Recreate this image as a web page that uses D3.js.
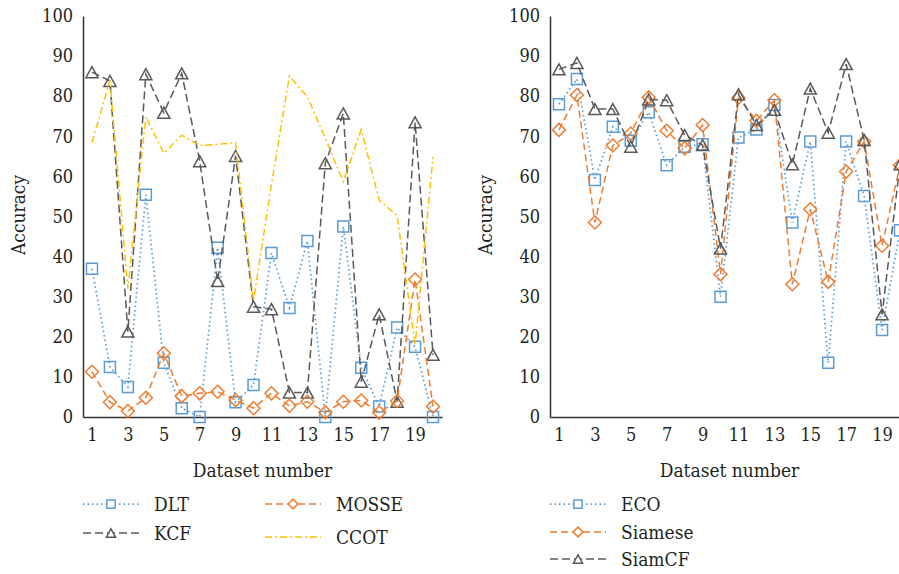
<html>
<head>
    <style>
        body { margin: 0; background: #fff; }
        .line { fill: none; }
    </style>
</head>
<body>
    <svg id="container" width="899" height="574"></svg>
</body>
<script src="https://d3js.org/d3.v7.min.js"></script>
<script>
    // dataset numbers on the x axis
    let datasets = [1, 2, 3, 4, 5, 6, 7, 8, 9, 10, 11, 12, 13, 14, 15, 16, 17, 18, 19, 20]
    let xTicks = [1, 3, 5, 7, 9, 11, 13, 15, 17, 19]
    let yTicks = [0, 10, 20, 30, 40, 50, 60, 70, 80, 90, 100]

    // left chart
    let dlt = [37, 12.5, 7.5, 55.4, 13.5, 2.2, 0, 42.2, 3.7, 8, 40.9, 27.2, 43.9, 0, 47.5, 12.3, 2.6, 22.3, 17.5, 0]
    let kcf = [86, 83.8, 21.3, 85.5, 75.9, 85.7, 63.8, 33.9, 65.1, 27.5, 26.9, 6.1, 6.1, 63.3, 75.7, 8.8, 25.6, 3.8, 73.5, 15.5]
    let mosse = [11.3, 3.7, 1.5, 4.8, 15.9, 5.2, 5.9, 6.3, 4.2, 2.2, 5.9, 2.8, 3.8, 1.2, 3.8, 4.1, 1.1, 4, 34.3, 2.6]
    let ccot = [68.4, 84, 32, 74.9, 65.8, 70.3, 67.7, 68, 68.4, 29, 58, 85, 79.9, 69.5, 58.7, 71.7, 54.1, 50.2, 18, 64.9]

    // right chart
    let eco = [78, 84.3, 59.1, 72.4, 68.9, 76, 62.8, 67.4, 68, 30, 69.7, 71.7, 77.8, 48.5, 68.7, 13.5, 68.7, 55.1, 21.7, 46.6]
    let siamese = [71.6, 80.3, 48.5, 67.7, 70.7, 79.7, 71.4, 67, 72.8, 35.6, 79.6, 73.9, 79, 33.1, 51.8, 33.7, 61.2, 68.7, 42.7, 62.8]
    let siamcf = [86.7, 88.3, 76.8, 76.8, 67.4, 79.2, 79, 70.3, 67.8, 42, 80.5, 72.8, 76.6, 63, 81.9, 70.9, 88, 69.1, 25.6, 63]

    let blue = "#5b9bd5", orange = "#ed7d31", gray = "#595959", yellow = "#ffc000"
    let textColor = "#231f20"
    let font = "'DejaVu Serif Condensed', 'DejaVu Serif'"

    // marker shapes (custom, centred on the point)
    let square = { draw(ctx, s) { ctx.rect(-s, -s, 2 * s, 2 * s) } }
    let diamond = { draw(ctx, s) { ctx.moveTo(0, -s); ctx.lineTo(s, 0); ctx.lineTo(0, s); ctx.lineTo(-s, 0); ctx.closePath() } }
    let triangle = { draw(ctx, s) { ctx.moveTo(0, -s); ctx.lineTo(s * 1.1, s); ctx.lineTo(-s * 1.1, s); ctx.closePath() } }

    let svg = d3.select("#container")
    let yScale = d3.scaleLinear().domain([0, 100]).range([417, 16])

    function drawChart(left, right, series) {
        let g = svg.append("g")
        let xScale = d3.scalePoint().domain(datasets).range([left, right]).padding(0.5)

        // axes
        g.append("g")
            .attr("transform", "translate(" + left + ",0)")
            .call(d3.axisLeft(yScale).tickValues(yTicks).tickSize(0).tickPadding(10))
        let xAxis = g.append("g")
            .attr("transform", "translate(0,417)")
            .call(d3.axisBottom(xScale).tickValues(xTicks).tickSize(0).tickPadding(10))
        g.selectAll(".domain").attr("stroke", "#333").attr("stroke-width", 1.5)
        g.selectAll(".tick text")
            .attr("font-family", font)
            .attr("font-size", 18)
            .attr("fill", textColor)
        xAxis.selectAll(".tick text").attr("dy", "0.75em")

        g.append("text")
            .attr("x", (left + right) / 2)
            .attr("y", 477)
            .attr("text-anchor", "middle")
            .attr("font-family", font)
            .attr("font-size", 19)
            .attr("fill", textColor)
            .text("Dataset number")
        g.append("text")
            .attr("transform", "translate(" + (left - 58) + ",215) rotate(-90)")
            .attr("text-anchor", "middle")
            .attr("font-family", font)
            .attr("font-size", 19)
            .attr("fill", textColor)
            .text("Accuracy")

        series.forEach(s => {
            let pts = datasets.map((d, i) => ({ x: d, y: s.values[i] }))
            let line = d3.line().x(d => xScale(d.x)).y(d => yScale(d.y))
            g.append("path")
                .datum(pts)
                .attr("class", "line")
                .attr("d", line)
                .attr("stroke", s.color)
                .attr("stroke-width", s.width)
                .attr("stroke-dasharray", s.dash)
            if (s.marker) {
                g.selectAll(null)
                    .data(pts)
                    .enter().append("path")
                    .attr("transform", d => "translate(" + xScale(d.x) + "," + yScale(d.y) + ")")
                    .attr("d", d3.symbol().type(s.marker).size(s.msize))
                    .attr("fill", "none")
                    .attr("stroke", s.color)
                    .attr("stroke-width", 1.5)
            }
        })
    }

    function drawLegend(items) {
        items.forEach(s => {
            let g = svg.append("g")
            g.append("line")
                .attr("x1", s.lx).attr("x2", s.lx + 56)
                .attr("y1", s.ly).attr("y2", s.ly)
                .attr("stroke", s.color)
                .attr("stroke-width", s.width)
                .attr("stroke-dasharray", s.dash)
            if (s.marker) {
                g.append("path")
                    .attr("transform", "translate(" + (s.lx + 28) + "," + s.ly + ")")
                    .attr("d", d3.symbol().type(s.marker).size(s.msize * 0.75))
                    .attr("fill", "#fff")
                    .attr("stroke", s.color)
                    .attr("stroke-width", 1.5)
            }
            g.append("text")
                .attr("x", s.lx + 71)
                .attr("y", s.ly + 7)
                .attr("font-family", font)
                .attr("font-size", 19)
                .attr("fill", textColor)
                .text(s.name)
        })
    }

    let leftSeries = [
        { name: "DLT", values: dlt, color: blue, width: 1.75, dash: "1.5 3", marker: square, msize: 5.5, lx: 83, ly: 504 },
        { name: "KCF", values: kcf, color: gray, width: 1.5, dash: "8 4", marker: triangle, msize: 5.5, lx: 83, ly: 533 },
        { name: "MOSSE", values: mosse, color: orange, width: 1.5, dash: "7 4", marker: diamond, msize: 6.5, lx: 265, ly: 504 },
        { name: "CCOT", values: ccot, color: yellow, width: 1.5, dash: "7 3 2 3", marker: null, msize: 0, lx: 265, ly: 537 }
    ]
    let rightSeries = [
        { name: "ECO", values: eco, color: blue, width: 1.75, dash: "1.5 3", marker: square, msize: 5.5, lx: 550, ly: 504 },
        { name: "Siamese", values: siamese, color: orange, width: 1.5, dash: "7 4", marker: diamond, msize: 6.5, lx: 550, ly: 532 },
        { name: "SiamCF", values: siamcf, color: gray, width: 1.5, dash: "8 4", marker: triangle, msize: 5.5, lx: 550, ly: 559 }
    ]

    drawChart(83, 442, leftSeries)
    drawChart(550, 909, rightSeries)
    drawLegend(leftSeries)
    drawLegend(rightSeries)
</script>
</html>
